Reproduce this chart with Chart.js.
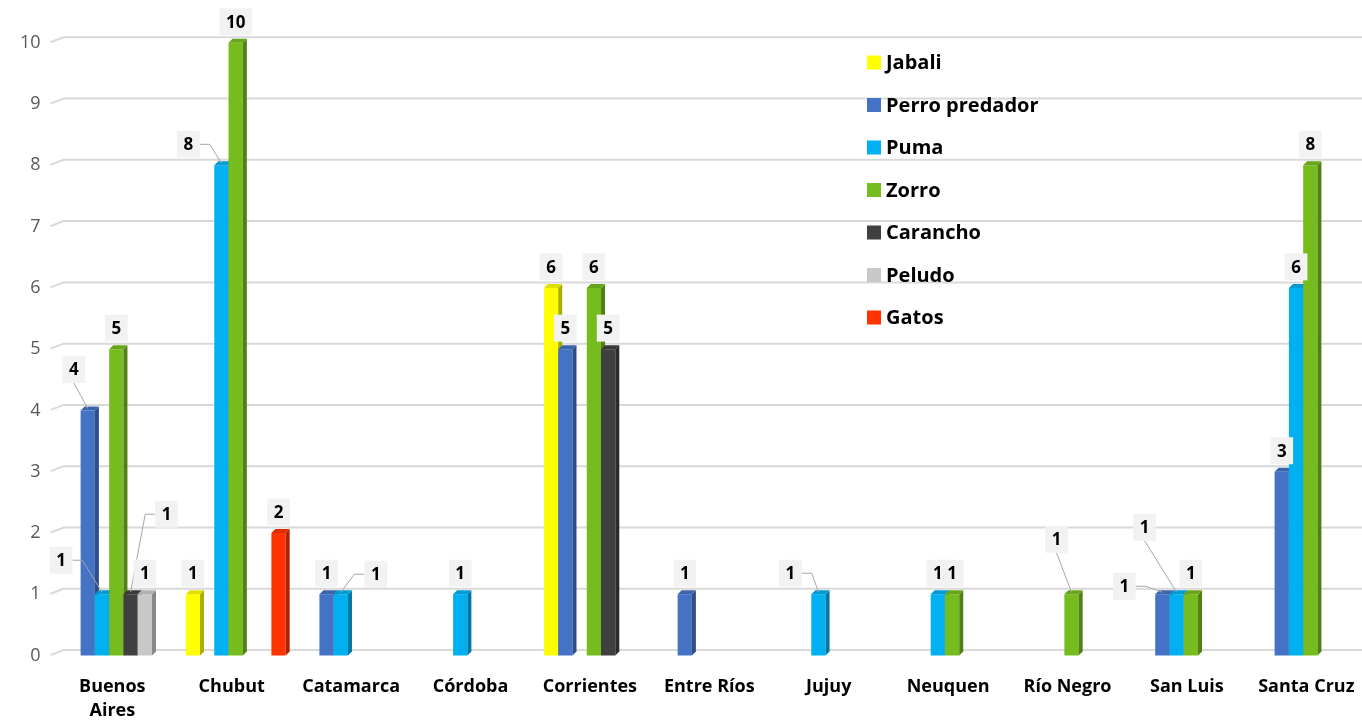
<!DOCTYPE html>
<html><head><meta charset="utf-8">
<script src="https://cdn.jsdelivr.net/npm/chart.js@4"></script>
<style>html,body{margin:0;padding:0;overflow:hidden;background:#fff}canvas{display:block}</style>
</head><body>
<canvas id="c" width="1370" height="720"></canvas>
<script>
const categories = ['Buenos Aires','Chubut','Catamarca','Córdoba','Corrientes','Entre Ríos','Jujuy','Neuquen','Río Negro','San Luis','Santa Cruz'];
const xTickLabels = [['Buenos','Aires'],'Chubut','Catamarca','Córdoba','Corrientes','Entre Ríos','Jujuy','Neuquen','Río Negro','San Luis','Santa Cruz'];
const seriesNames = ['Jabali','Perro predador','Puma','Zorro','Carancho','Peludo','Gatos'];
const jabali        = [null, 1, null, null, 6, null, null, null, null, null, null];
const perroPredador = [4, null, 1, null, 5, 1, null, null, null, 1, 3];
const puma          = [1, 8, 1, 1, null, null, 1, 1, null, 1, 6];
const zorro         = [5, 10, null, null, 6, null, null, 1, 1, 1, 8];
const carancho      = [1, null, null, null, 5, null, null, null, null, null, null];
const peludo        = [1, null, null, null, null, null, null, null, null, null, null];
const gatos         = [null, 2, null, null, null, null, null, null, null, null, null];
const yTicks = [0,1,2,3,4,5,6,7,8,9,10];

const seriesValues = [jabali, perroPredador, puma, zorro, carancho, peludo, gatos];
const seriesColors = ['#FFFF00','#4472C4','#00B0F0','#77BC1F','#404040','#C8C8C8','#FF3300'];

// label placement tweaks (style): "series:index" -> [dx, dy, leaderType]
const labelTweaks = {
  '1:0': [-14, -20, 'bottom'],
  '2:0': [-41, -13, 'side'],
  '4:0': [36, -59, 'side'],
  '2:1': [-33, 0, 'side'],
  '2:2': [35, 1, 'side'],
  '2:6': [-28, 0, 'side'],
  '3:8': [-15, -34, 'bottom'],
  '1:9': [-38, 13, 'side'],
  '2:9': [-32, -46, 'bottom']
};

const SHIFT = 5.5, DEPTH = 4;
function shade(hex, f) {
  const n = parseInt(hex.slice(1), 16);
  const r = (n >> 16) & 255, g = (n >> 8) & 255, b = n & 255;
  return 'rgb(' + Math.round(r*f) + ',' + Math.round(g*f) + ',' + Math.round(b*f) + ')';
}

const bar3d = {
  id: 'bar3d',
  beforeDatasetsDraw(chart) {
    const ctx = chart.ctx, ys = chart.scales.y, L = chart.chartArea.left;
    ctx.save();
    ctx.strokeStyle = '#d9d9d9'; ctx.lineWidth = 2;
    yTicks.forEach(v => {
      const y = ys.getPixelForValue(v);
      ctx.beginPath(); ctx.moveTo(L - 6, y + 5); ctx.lineTo(L + 7, y); ctx.lineTo(chart.width, y); ctx.stroke();
    });
    ctx.restore();
  },
  beforeDatasetDraw() { return false; },
  afterDatasetsDraw(chart) {
    const ctx = chart.ctx;
    ctx.save(); ctx.translate(0, SHIFT);
    chart.data.datasets.forEach((ds, d) => {
      const meta = chart.getDatasetMeta(d);
      meta.controller.draw();
      meta.data.forEach((el, i) => {
        if (ds.data[i] == null) return;
        const p = el.getProps(['x','y','base','width'], true);
        const l = p.x - p.width/2, r = p.x + p.width/2;
        ctx.fillStyle = shade(ds.backgroundColor, 0.68);
        ctx.beginPath(); ctx.moveTo(r, p.y); ctx.lineTo(r+DEPTH, p.y-DEPTH); ctx.lineTo(r+DEPTH, p.base-DEPTH); ctx.lineTo(r, p.base); ctx.closePath(); ctx.fill();
        ctx.fillStyle = shade(ds.backgroundColor, 0.88);
        ctx.beginPath(); ctx.moveTo(l, p.y); ctx.lineTo(l+DEPTH, p.y-DEPTH); ctx.lineTo(r+DEPTH, p.y-DEPTH); ctx.lineTo(r, p.y); ctx.closePath(); ctx.fill();
      });
    });
    ctx.restore();
    ctx.save();
    ctx.font = 'bold 17px "Open Sans"';
    ctx.textAlign = 'center'; ctx.textBaseline = 'middle';
    chart.data.datasets.forEach((ds, d) => {
      const meta = chart.getDatasetMeta(d);
      meta.data.forEach((el, i) => {
        const v = ds.data[i]; if (v == null) return;
        const bx = el.x, by = el.y + SHIFT - DEPTH/2;
        let cx = el.x, cy = el.y + SHIFT - 21;
        const tw = ctx.measureText(String(v)).width;
        const w = tw + 13, h = 27;
        const t = labelTweaks[d + ':' + i];
        if (t) {
          cx += t[0]; cy += t[1];
          ctx.strokeStyle = '#a6a6a6'; ctx.lineWidth = 1;
          ctx.beginPath();
          if (t[2] === 'side') {
            const sx = cx < bx ? cx + w/2 : cx - w/2;
            const ex = cx < bx ? sx + 10 : sx - 10;
            ctx.moveTo(sx, cy); ctx.lineTo(ex, cy); ctx.lineTo(bx, by);
          } else {
            ctx.moveTo(cx, cy + h/2); ctx.lineTo(bx, by);
          }
          ctx.stroke();
        }
        ctx.fillStyle = '#f2f2f2';
        ctx.fillRect(cx - w/2, cy - h/2, w, h);
        ctx.fillStyle = '#000';
        ctx.fillText(String(v), cx, cy + 1);
      });
    });
    ctx.restore();
  },
  afterDraw(chart) {
    const ctx = chart.ctx;
    ctx.save();
    ctx.font = 'bold 20px "Open Sans"';
    ctx.textAlign = 'left'; ctx.textBaseline = 'middle';
    chart.data.datasets.forEach((ds, d) => {
      const y = 62.5 + d * 42.5;
      ctx.fillStyle = ds.backgroundColor;
      ctx.fillRect(867, y - 7, 14, 14);
      ctx.fillStyle = '#000';
      ctx.fillText(ds.label, 886, y + 1);
    });
    ctx.restore();
  }
};

new Chart(document.getElementById('c'), {
  type: 'bar',
  data: {
    labels: categories,
    datasets: seriesNames.map((name, k) => ({
      label: name,
      data: seriesValues[k],
      backgroundColor: seriesColors[k],
      borderWidth: 0,
      clip: false,
      categoryPercentage: 0.837,
      barPercentage: 1.0
    }))
  },
  options: {
    responsive: false,
    animation: false,
    layout: { padding: { top: 37.3, right: 0, left: 0, bottom: 0 } },
    plugins: { legend: { display: false }, tooltip: { enabled: false } },
    scales: {
      x: {
        grid: { display: false, drawTicks: false },
        border: { display: false },
        afterFit(s) { s.height = 70; s.paddingLeft = 0; s.paddingRight = 0; },
        ticks: {
          color: '#000',
          font: { family: 'Open Sans', size: 18, weight: 'bold', lineHeight: 1.333 },
          padding: 25, labelOffset: -4,
          maxRotation: 0, autoSkip: false,
          callback: (v, i) => xTickLabels[i]
        }
      },
      y: {
        min: 0, max: 10,
        grid: { display: false, drawTicks: false },
        border: { display: false },
        afterFit(s) { s.width = 56.6; },
        ticks: {
          stepSize: 1, color: '#595959', padding: 16, labelOffset: 5.5,
          font: { family: 'Open Sans', size: 18 },
          callback: v => yTicks.includes(v) ? String(v) : ''
        }
      }
    }
  },
  plugins: [bar3d]
});
</script>
</body></html>
